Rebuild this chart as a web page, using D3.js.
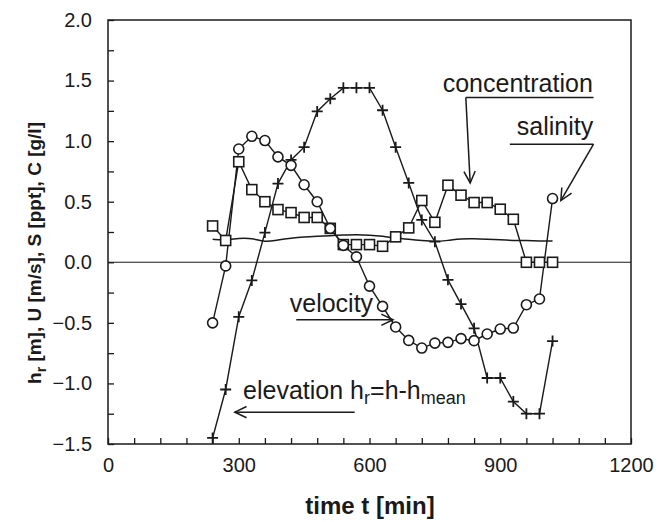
<!DOCTYPE html>
<html><head><meta charset="utf-8">
<script src="https://cdn.jsdelivr.net/npm/d3@7"></script>
<style>body{margin:0;background:#fff}svg{display:block}text{font-family:"Liberation Sans",Arial,sans-serif;fill:#1a1a1a}</style>
</head><body><div id="chart"></div>
<script>
// ---- data ----
const times = [240,270,300,330,360,390,420,450,480,510,540,570,600,630,660,690,720,750,780,810,840,870,900,930,960,990,1020];
const elevation = [-1.45,-1.05,-0.45,-0.15,0.245,0.65,0.845,0.95,1.245,1.35,1.44,1.44,1.44,1.255,0.95,0.655,0.35,0.17,-0.145,-0.345,-0.545,-0.955,-0.955,-1.15,-1.25,-1.25,-0.65];
const velocity = [-0.50,-0.03,0.935,1.04,1.005,0.87,0.80,0.64,0.50,0.28,0.14,0.045,-0.197,-0.364,-0.534,-0.645,-0.708,-0.667,-0.661,-0.63,-0.647,-0.592,-0.551,-0.543,-0.35,-0.303,0.526];
const concentration = [0.30,0.18,0.83,0.60,0.50,0.435,0.41,0.37,0.37,0.28,0.146,0.146,0.146,0.132,0.21,0.284,0.51,0.33,0.636,0.554,0.493,0.493,0.438,0.355,0.0,0.0,0.0];
const salinity = [0.19,0.18,0.20,0.20,0.165,0.185,0.20,0.21,0.215,0.22,0.225,0.23,0.225,0.215,0.20,0.19,0.18,0.17,0.18,0.195,0.195,0.19,0.185,0.18,0.18,0.175,0.175];
const xTickLabels = [0,300,600,900,1200];
const yTickLabels = [-1.5,-1.0,-0.5,0.0,0.5,1.0,1.5,2.0];

const W = 662, H = 522;
const m = {l:108, t:20, r:31, b:78};
const svg = d3.select("#chart").append("svg").attr("width",W).attr("height",H);
const x = d3.scaleLinear().domain([0,1200]).range([m.l, W-m.r]);
const y = d3.scaleLinear().domain([-1.5,2.0]).range([H-m.b, m.t]);
const ink = "#1a1a1a";

// axes
const xAxis = d3.axisBottom(x).tickValues(d3.range(0,1201,60)).tickSize(-6)
  .tickFormat(d => xTickLabels.includes(d) ? d : "").tickPadding(14);
const gx = svg.append("g").attr("transform",`translate(0,${H-m.b})`).call(xAxis);
gx.select(".domain").remove();
gx.selectAll("line").attr("stroke",ink).attr("stroke-width",1.3);
gx.selectAll("text").attr("font-size",20).attr("fill",ink);

const yAxis = d3.axisLeft(y).tickValues(d3.range(-1.5,2.01,0.25)).tickSize(-6)
  .tickFormat(d => yTickLabels.some(v=>Math.abs(v-d)<1e-6) ? d3.format(".1f")(d) : "").tickPadding(16);
const gy = svg.append("g").attr("transform",`translate(${m.l},0)`).call(yAxis);
gy.select(".domain").remove();
gy.selectAll("line").attr("stroke",ink).attr("stroke-width",1.3);
gy.selectAll("text").attr("font-size",20).attr("fill",ink);

// frame
svg.append("rect").attr("x",m.l).attr("y",m.t).attr("width",W-m.r-m.l).attr("height",H-m.b-m.t)
  .attr("fill","none").attr("stroke",ink).attr("stroke-width",1.5);
// zero line
svg.append("line").attr("x1",x(0)).attr("x2",x(1200)).attr("y1",y(0)).attr("y2",y(0)).attr("stroke",ink).attr("stroke-width",1.1);

// salinity smooth line
svg.append("path").datum(times.map((t,i)=>[t,salinity[i]]))
  .attr("d", d3.line().x(d=>x(d[0])).y(d=>y(d[1])).curve(d3.curveBasis))
  .attr("fill","none").attr("stroke",ink).attr("stroke-width",1.5);

const line = d3.line().x(d=>x(d[0])).y(d=>y(d[1]));
function series(vals){ return times.map((t,i)=>[t,vals[i]]); }

// elevation
svg.append("path").datum(series(elevation)).attr("d",line).attr("fill","none").attr("stroke",ink).attr("stroke-width",1.4);
// velocity
svg.append("path").datum(series(velocity)).attr("d",line).attr("fill","none").attr("stroke",ink).attr("stroke-width",1.4);
// concentration
svg.append("path").datum(series(concentration)).attr("d",line).attr("fill","none").attr("stroke",ink).attr("stroke-width",1.4);

// markers
svg.append("g").selectAll("path").data(series(elevation)).join("path")
  .attr("d", d=>`M${x(d[0])-5.5},${y(d[1])}h11M${x(d[0])},${y(d[1])-5.5}v11`)
  .attr("stroke",ink).attr("stroke-width",1.8);
svg.append("g").selectAll("rect").data(series(concentration)).join("rect")
  .attr("x",d=>x(d[0])-5).attr("y",d=>y(d[1])-5).attr("width",10).attr("height",10)
  .attr("fill","#fff").attr("stroke",ink).attr("stroke-width",1.6);
svg.append("g").selectAll("circle").data(series(velocity)).join("circle")
  .attr("cx",d=>x(d[0])).attr("cy",d=>y(d[1])).attr("r",5)
  .attr("fill","#fff").attr("stroke",ink).attr("stroke-width",1.6);

// annotations
function arrow(x1,y1,x2,y2){
  svg.append("line").attr("x1",x1).attr("y1",y1).attr("x2",x2).attr("y2",y2).attr("stroke",ink).attr("stroke-width",1.5);
  const a = Math.atan2(y2-y1,x2-x1), L=13, s=0.45;
  const p1=[x2-L*Math.cos(a-s), y2-L*Math.sin(a-s)], p2=[x2-L*Math.cos(a+s), y2-L*Math.sin(a+s)];
  svg.append("path").attr("d",`M${p1}L${x2},${y2}L${p2}`).attr("fill","none").attr("stroke",ink).attr("stroke-width",1.5);
}
function hline(x1,x2,yy){ svg.append("line").attr("x1",x1).attr("x2",x2).attr("y1",yy).attr("y2",yy).attr("stroke",ink).attr("stroke-width",1.5); }
const fs = 25;
// concentration
svg.append("text").attr("x",x(768)).attr("y",y(1.405)).attr("font-size",fs).text("concentration");
hline(x(821),x(1114),y(1.36));
arrow(x(821),y(1.36),x(831),y(0.655));
// salinity
svg.append("text").attr("x",x(938)).attr("y",y(1.05)).attr("font-size",fs).text("salinity");
hline(x(922),x(1114),y(0.975));
arrow(x(1114),y(0.975),x(1039),y(0.51));
// velocity
svg.append("text").attr("x",x(417)).attr("y",y(-0.41)).attr("font-size",fs).text("velocity");
arrow(x(432),y(-0.474),x(654),y(-0.474));
// elevation
const te = svg.append("text").attr("x",x(310)).attr("y",y(-1.127)).attr("font-size",fs);
te.append("tspan").text("elevation h");
te.append("tspan").attr("font-size",18).attr("dy",5).text("r");
te.append("tspan").attr("dy",-5).text("=h-h");
te.append("tspan").attr("font-size",18).attr("dy",5).text("mean");
arrow(x(566),y(-1.237),x(291),y(-1.237));

// axis titles
svg.append("text").attr("x",370).attr("y",514).attr("text-anchor","middle").attr("font-size",24).attr("font-weight","bold").text("time t [min]");
const ty = svg.append("text").attr("transform",`translate(41,253) rotate(-90)`).attr("text-anchor","middle").attr("font-size",19).attr("font-weight","bold");
ty.append("tspan").text("h");
ty.append("tspan").attr("font-size",14).attr("dy",5).text("r");
ty.append("tspan").attr("dy",-5).text(" [m], U [m/s], S [ppt], C [g/l]");
</script></body></html>
